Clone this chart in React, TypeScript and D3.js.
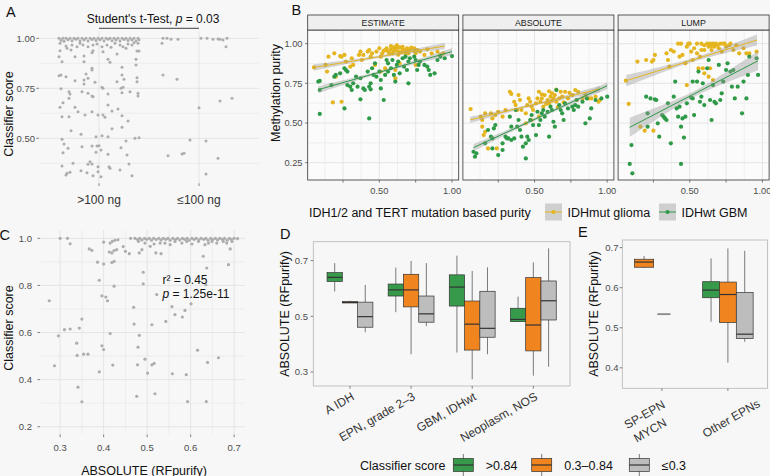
import React from 'react';
import * as d3 from 'd3';

const FONT = "'Liberation Sans', Arial, Helvetica, sans-serif";
const BG = '#f7f7f7';
const GRID = '#e2e2e2';
const TICK_TXT = '#4d4d4d';
const YEL = '#E5B51F';
const GRN = '#2E9A47';
const BOX_GRN = '#37994A';
const BOX_ORG = '#F0841F';
const BOX_GRY = '#BDBDBD';
const PT_GRY = '#adadad';

// ---- panel A: classifier score by DNA input ----
const aGroups = ['>100 ng', '≤100 ng'];
const aTicks = [0.5, 0.75, 1.0];
// [jitter, score] for the >100 ng group, dense band at 1.0
const aBand1 = [
  [-0.40, 1], [-0.38, 0.99], [-0.36, 1], [-0.35, 0.985], [-0.33, 1], [-0.31, 0.993], [-0.29, 1], [-0.27, 0.988],
  [-0.25, 1], [-0.23, 0.995], [-0.21, 1], [-0.19, 0.987], [-0.17, 1], [-0.15, 0.992], [-0.13, 1], [-0.11, 0.986],
  [-0.09, 1], [-0.07, 0.994], [-0.05, 1], [-0.03, 0.989], [-0.01, 1], [0.01, 0.993], [0.03, 1], [0.05, 0.986],
  [0.07, 1], [0.09, 0.995], [0.11, 1], [0.13, 0.988], [0.15, 1], [0.17, 0.992], [0.19, 1], [0.21, 0.987],
  [0.23, 1], [0.25, 0.994], [0.27, 1], [0.29, 0.989], [0.31, 1], [0.33, 0.991], [0.35, 1], [0.37, 0.986],
  [0.39, 1], [0.40, 0.993],
];
const aPts1 = [
  [-0.39, 0.975], [-0.33, 0.962], [-0.32, 0.95], [-0.28, 0.942], [-0.27, 0.967], [-0.22, 0.958], [-0.19, 0.975],
  [-0.16, 0.967], [-0.11, 0.958], [-0.06, 0.967], [-0.02, 0.972], [0.03, 0.958], [0.08, 0.967], [0.12, 0.955],
  [0.16, 0.975], [0.21, 0.967], [0.24, 0.958], [0.29, 0.972], [0.33, 0.967], [0.35, 0.978], [0.39, 0.975],
  [-0.39, 0.938], [-0.37, 0.883], [-0.40, 0.908], [-0.24, 0.908], [-0.15, 0.912], [-0.15, 0.883], [-0.07, 0.928],
  [-0.06, 0.938], [0.04, 0.933], [0.09, 0.895], [0.11, 0.88], [0.23, 0.855], [0.18, 0.922], [0.27, 0.95],
  [0.38, 0.937], [0.40, 0.937], [0.37, 0.895], [0.37, 0.867], [-0.07, 0.85], [-0.07, 0.842],
  [-0.40, 0.813], [-0.38, 0.817], [-0.33, 0.808], [-0.24, 0.788], [-0.15, 0.792], [-0.13, 0.822], [-0.11, 0.80],
  [-0.15, 0.772], [-0.04, 0.78], [0.18, 0.783], [0.23, 0.817], [0.25, 0.795], [0.38, 0.803], [0.38, 0.783],
  [-0.38, 0.748], [0.03, 0.755], [0.04, 0.75], [-0.30, 0.733], [-0.29, 0.722], [-0.30, 0.70], [-0.17, 0.733],
  [-0.11, 0.725], [-0.07, 0.712], [-0.06, 0.708], [0.09, 0.722], [0.22, 0.75], [0.24, 0.755], [0.23, 0.728],
  [0.31, 0.733], [0.39, 0.725], [0.39, 0.712],
  [-0.36, 0.678], [-0.39, 0.655], [-0.24, 0.655], [-0.21, 0.633], [-0.37, 0.608], [-0.30, 0.608], [-0.14, 0.617],
  [-0.07, 0.633], [-0.01, 0.617], [0.04, 0.617], [0.06, 0.605], [0.09, 0.667], [0.13, 0.637], [0.19, 0.647],
  [0.23, 0.613], [0.29, 0.587],
  [-0.28, 0.538], [-0.18, 0.52], [-0.03, 0.508], [0.03, 0.513], [0.09, 0.508], [0.13, 0.548], [0.23, 0.555],
  [0.36, 0.50], [0.40, 0.503], [-0.37, 0.495], [-0.35, 0.472], [-0.31, 0.45], [-0.17, 0.458], [-0.07, 0.462],
  [-0.02, 0.462], [0.00, 0.463], [-0.03, 0.43], [0.02, 0.442], [0.09, 0.42], [0.22, 0.453], [0.27, 0.487],
  [0.28, 0.417], [-0.36, 0.428],
  [-0.26, 0.375], [-0.37, 0.362], [-0.32, 0.325], [-0.33, 0.317], [-0.29, 0.33], [-0.18, 0.338], [-0.12, 0.328],
  [-0.11, 0.37], [-0.09, 0.383], [-0.07, 0.372], [-0.06, 0.313], [-0.01, 0.358], [-0.01, 0.333], [0.02, 0.308],
  [0.10, 0.358], [0.11, 0.35], [0.21, 0.342], [0.30, 0.372], [0.33, 0.313],
];
const aPts2 = [
  [-0.36, 1.0], [-0.32, 1.0], [-0.28, 0.995], [-0.21, 0.995], [-0.37, 0.975], [0.02, 1.0], [0.08, 1.0],
  [0.14, 0.995], [0.19, 0.997], [0.21, 0.995], [0.24, 0.992], [0.28, 1.0], [0.27, 0.958], [-0.36, 0.817],
  [-0.22, 0.795], [0.21, 0.687], [0.33, 0.70], [0.00, 0.653], [-0.09, 0.492], [0.07, 0.487], [-0.31, 0.413],
  [-0.17, 0.422], [-0.15, 0.425], [0.19, 0.40], [0.07, 0.322],
];

// ---- panel B: methylation purity vs mutation based purity ----
const estMut = [
  [0.05, 0.85], [0.13, 0.866], [0.14, 0.824], [0.15, 0.918], [0.19, 0.939], [0.20, 0.792], [0.18, 0.63],
  [0.24, 0.634], [0.23, 0.922], [0.24, 0.918], [0.26, 0.929], [0.27, 0.887], [0.30, 0.855], [0.31, 0.908],
  [0.32, 0.866], [0.36, 0.929], [0.37, 0.95], [0.38, 0.897], [0.39, 0.929], [0.42, 0.95], [0.43, 0.96],
  [0.44, 0.918], [0.45, 0.939], [0.47, 0.866], [0.48, 0.95], [0.50, 0.971], [0.51, 0.918], [0.52, 0.939],
  [0.54, 0.96], [0.55, 0.971], [0.56, 0.95], [0.58, 0.964], [0.59, 0.939], [0.60, 0.977], [0.61, 0.96],
  [0.62, 0.971], [0.63, 0.95], [0.64, 0.977], [0.66, 0.964], [0.67, 0.96], [0.68, 0.95], [0.69, 0.971],
  [0.70, 0.939], [0.71, 0.964], [0.74, 0.956], [0.75, 0.939], [0.76, 0.96], [0.78, 0.95], [0.81, 0.929],
  [0.83, 0.964], [0.86, 0.939], [0.90, 0.95], [0.92, 0.929], [0.94, 0.939], [0.61, 0.782], [0.61, 0.834],
  [0.51, 0.824], [0.54, 0.845], [0.64, 0.876], [0.75, 0.866], [0.57, 0.94], [0.63, 0.93], [0.66, 0.98],
  [0.70, 0.955], [0.72, 0.975], [0.65, 0.945], [0.60, 0.95], [0.53, 0.955], [0.68, 0.935], [0.74, 0.97],
  [0.58, 0.985], [0.62, 0.99],
];
const estWt = [
  [0.09, 0.557], [0.08, 0.761], [0.09, 0.765], [0.09, 0.708], [0.19, 0.792], [0.20, 0.803], [0.17, 0.739],
  [0.26, 0.592], [0.23, 0.813], [0.26, 0.845], [0.27, 0.834], [0.28, 0.824], [0.28, 0.739], [0.30, 0.729],
  [0.31, 0.708], [0.32, 0.75], [0.34, 0.792], [0.35, 0.729], [0.37, 0.782], [0.37, 0.649], [0.39, 0.718],
  [0.40, 0.708], [0.42, 0.824], [0.43, 0.729], [0.44, 0.75], [0.44, 0.712], [0.45, 0.845], [0.46, 0.803],
  [0.47, 0.876], [0.48, 0.792], [0.50, 0.824], [0.51, 0.771], [0.51, 0.718], [0.53, 0.645], [0.43, 0.529],
  [0.54, 0.803], [0.55, 0.897], [0.56, 0.824], [0.56, 0.876], [0.58, 0.845], [0.59, 0.897], [0.60, 0.803],
  [0.61, 0.761], [0.62, 0.866], [0.63, 0.887], [0.64, 0.813], [0.66, 0.908], [0.67, 0.855], [0.68, 0.918],
  [0.69, 0.834], [0.70, 0.75], [0.70, 0.887], [0.71, 0.908], [0.74, 0.918], [0.75, 0.897], [0.76, 0.834],
  [0.77, 0.866], [0.78, 0.887], [0.81, 0.866], [0.83, 0.855], [0.84, 0.834], [0.85, 0.803], [0.88, 0.813],
  [0.90, 0.897], [0.92, 0.918], [0.95, 0.908], [1.00, 0.922],
];
const absMut = [
  [0.06, 0.588], [0.13, 0.54], [0.14, 0.519], [0.16, 0.561], [0.20, 0.561], [0.21, 0.529], [0.23, 0.55],
  [0.25, 0.571], [0.14, 0.477], [0.15, 0.424], [0.16, 0.445], [0.18, 0.34], [0.24, 0.34], [0.28, 0.54],
  [0.30, 0.582], [0.33, 0.697], [0.34, 0.683], [0.36, 0.634], [0.37, 0.613], [0.38, 0.582], [0.39, 0.676],
  [0.40, 0.645], [0.41, 0.582], [0.44, 0.561], [0.45, 0.613], [0.46, 0.655], [0.47, 0.634], [0.48, 0.603],
  [0.49, 0.582], [0.51, 0.624], [0.52, 0.655], [0.53, 0.697], [0.54, 0.634], [0.55, 0.655], [0.56, 0.603],
  [0.57, 0.676], [0.59, 0.645], [0.60, 0.624], [0.61, 0.666], [0.62, 0.687], [0.63, 0.655], [0.64, 0.676],
  [0.65, 0.634], [0.67, 0.655], [0.68, 0.697], [0.69, 0.666], [0.71, 0.697], [0.73, 0.655], [0.76, 0.676],
  [0.78, 0.708], [0.79, 0.645], [0.80, 0.697], [0.83, 0.655], [0.85, 0.676], [0.87, 0.655], [0.89, 0.655],
  [0.92, 0.666], [0.94, 0.634], [0.95, 0.645], [0.44, 0.498], [0.48, 0.519], [0.53, 0.54], [0.58, 0.62],
  [0.62, 0.64], [0.66, 0.60], [0.70, 0.63], [0.74, 0.69], [0.60, 0.70], [0.55, 0.68], [0.65, 0.71],
];
const absWt = [
  [0.08, 0.319], [0.09, 0.288], [0.10, 0.309], [0.16, 0.372], [0.18, 0.456], [0.20, 0.414], [0.21, 0.403],
  [0.21, 0.34], [0.22, 0.466], [0.23, 0.487], [0.25, 0.298], [0.28, 0.372], [0.28, 0.33], [0.30, 0.414],
  [0.31, 0.403], [0.32, 0.403], [0.33, 0.54], [0.34, 0.393], [0.34, 0.477], [0.36, 0.403], [0.37, 0.582],
  [0.38, 0.477], [0.39, 0.519], [0.40, 0.456], [0.41, 0.414], [0.42, 0.351], [0.44, 0.277], [0.44, 0.372],
  [0.45, 0.414], [0.46, 0.393], [0.47, 0.519], [0.48, 0.55], [0.49, 0.487], [0.51, 0.424], [0.52, 0.571],
  [0.53, 0.487], [0.54, 0.519], [0.55, 0.561], [0.56, 0.582], [0.57, 0.54], [0.59, 0.571], [0.60, 0.414],
  [0.61, 0.603], [0.62, 0.582], [0.63, 0.508], [0.64, 0.477], [0.65, 0.708], [0.67, 0.613], [0.68, 0.582],
  [0.69, 0.561], [0.70, 0.519], [0.71, 0.624], [0.73, 0.592], [0.76, 0.603], [0.77, 0.582], [0.78, 0.613],
  [0.79, 0.645], [0.80, 0.603], [0.83, 0.634], [0.85, 0.498], [0.86, 0.655], [0.88, 0.529], [0.89, 0.592],
  [0.92, 0.645], [0.96, 0.655], [1.00, 0.666],
];
const lumpMut = [
  [0.06, 0.767], [0.08, 0.62], [0.14, 0.887], [0.16, 0.477], [0.20, 0.897], [0.24, 0.887], [0.25, 0.897],
  [0.26, 0.929], [0.19, 0.452], [0.25, 0.452], [0.34, 0.939], [0.35, 0.897], [0.36, 0.855], [0.37, 0.96],
  [0.39, 0.95], [0.42, 1.0], [0.43, 0.918], [0.44, 1.0], [0.45, 0.929], [0.47, 0.876], [0.48, 0.981],
  [0.48, 0.739], [0.49, 1.0], [0.50, 1.0], [0.51, 0.95], [0.52, 0.897], [0.53, 0.971], [0.55, 0.939],
  [0.56, 0.845], [0.57, 0.918], [0.58, 0.96], [0.59, 0.845], [0.60, 0.96], [0.62, 1.0], [0.63, 0.981],
  [0.64, 1.0], [0.65, 0.96], [0.66, 1.0], [0.67, 0.981], [0.68, 1.0], [0.70, 0.971], [0.71, 1.0],
  [0.72, 0.95], [0.73, 1.0], [0.75, 0.981], [0.78, 1.0], [0.80, 0.96], [0.82, 0.99], [0.84, 0.939],
  [0.87, 0.971], [0.89, 0.939], [0.91, 0.939], [0.96, 0.95], [0.60, 0.813], [0.63, 0.792], [0.66, 0.771],
  [0.64, 0.845], [0.60, 0.99], [0.65, 0.985], [0.69, 0.99], [0.74, 1.0], [0.77, 0.99], [0.58, 1.0], [0.55, 1.0],
];
const lumpWt = [
  [0.087, 0.242], [0.099, 0.361], [0.105, 0.183], [0.20, 0.666], [0.21, 0.561], [0.23, 0.655], [0.26, 0.649],
  [0.27, 0.645], [0.21, 0.477], [0.28, 0.498], [0.29, 0.414], [0.31, 0.55], [0.32, 0.54], [0.33, 0.529],
  [0.34, 0.519], [0.35, 0.624], [0.37, 0.372], [0.39, 0.666], [0.40, 0.761], [0.41, 0.592], [0.42, 0.54],
  [0.43, 0.603], [0.44, 0.477], [0.45, 0.529], [0.46, 0.408], [0.44, 0.242], [0.47, 0.54], [0.48, 0.624],
  [0.51, 0.66], [0.52, 0.655], [0.52, 0.761], [0.53, 0.55], [0.55, 0.761], [0.56, 0.824], [0.57, 0.634],
  [0.58, 0.666], [0.59, 0.75], [0.60, 0.613], [0.62, 0.845], [0.63, 0.897], [0.64, 0.645], [0.65, 0.519],
  [0.66, 0.739], [0.67, 0.634], [0.68, 0.624], [0.70, 0.866], [0.71, 0.645], [0.72, 0.687], [0.73, 0.761],
  [0.75, 0.834], [0.76, 0.876], [0.78, 0.824], [0.79, 0.729], [0.80, 0.834], [0.81, 0.655], [0.83, 0.729],
  [0.86, 0.561], [0.87, 0.761], [0.89, 0.655], [0.90, 0.803], [0.91, 0.918], [0.96, 0.908], [0.97, 0.803],
];
// linear fits: start/end of fitted line and CI half-width at ends / middle
const bFits = {
  ESTIMATE: { mut: [0.05, 0.85, 0.95, 0.985, 0.02, 0.008], wt: [0.08, 0.71, 1.0, 0.95, 0.022, 0.008] },
  ABSOLUTE: { mut: [0.057, 0.52, 0.95, 0.715, 0.02, 0.008], wt: [0.08, 0.345, 1.0, 0.735, 0.022, 0.009] },
  LUMP: { mut: [0.064, 0.767, 0.963, 1.023, 0.035, 0.012], wt: [0.087, 0.473, 0.97, 0.892, 0.06, 0.018] },
};
const facets = [
  { name: 'ESTIMATE', mut: estMut, wt: estWt },
  { name: 'ABSOLUTE', mut: absMut, wt: absWt },
  { name: 'LUMP', mut: lumpMut, wt: lumpWt },
];
const bYTicks = [0.25, 0.5, 0.75, 1.0];
const bXTicks = [0.25, 0.5, 0.75, 1.0];
const bXLabels = [0.5, 1.0];
const bLegend = ['IDHmut glioma', 'IDHwt GBM'];

// ---- panel C: classifier score vs ABSOLUTE ----
const cXTicks = [0.3, 0.4, 0.5, 0.6, 0.7];
const cYTicks = [0.2, 0.4, 0.6, 0.8, 1.0];
const cBand = [
  [0.472, 1], [0.478, 0.995], [0.483, 1], [0.488, 0.993], [0.494, 1], [0.499, 0.996], [0.505, 1], [0.51, 0.992],
  [0.515, 1], [0.521, 0.995], [0.527, 1], [0.532, 0.993], [0.537, 1], [0.543, 0.996], [0.548, 1], [0.553, 0.992],
  [0.559, 1], [0.565, 0.995], [0.57, 1], [0.575, 0.993], [0.581, 1], [0.586, 0.996], [0.592, 1], [0.597, 0.992],
  [0.603, 1], [0.608, 0.995], [0.613, 1], [0.619, 0.993], [0.624, 1], [0.63, 0.996], [0.635, 1], [0.64, 0.992],
  [0.646, 1], [0.651, 0.995], [0.657, 1], [0.662, 0.993], [0.667, 1], [0.673, 0.996], [0.678, 1], [0.684, 0.992],
  [0.689, 1], [0.694, 0.995], [0.70, 1],
];
const cPts = [
  [0.30, 1.0], [0.317, 1.0], [0.323, 0.977], [0.275, 0.735], [0.287, 0.459], [0.296, 0.586], [0.31, 0.612],
  [0.323, 0.615], [0.344, 0.619], [0.35, 0.657], [0.338, 0.555], [0.339, 0.503], [0.354, 0.508], [0.364, 0.508],
  [0.341, 0.368], [0.35, 0.306], [0.367, 0.955], [0.373, 0.949], [0.386, 0.899], [0.40, 0.891], [0.39, 0.822],
  [0.396, 0.756], [0.405, 0.751], [0.409, 0.735], [0.415, 0.596], [0.421, 0.462], [0.39, 0.433], [0.396, 0.544],
  [0.40, 0.528], [0.424, 0.797], [0.419, 0.897], [0.424, 0.902], [0.40, 0.984], [0.415, 0.98], [0.42, 0.987],
  [0.426, 0.992], [0.433, 0.994], [0.413, 0.942], [0.419, 0.938], [0.424, 0.948], [0.43, 0.952], [0.459, 0.935],
  [0.462, 1.0], [0.469, 0.707], [0.47, 0.636], [0.479, 0.538], [0.482, 0.588], [0.478, 0.463], [0.476, 0.329],
  [0.491, 0.856], [0.491, 0.807], [0.482, 0.938], [0.488, 0.952], [0.495, 0.487], [0.501, 0.428], [0.511, 0.463],
  [0.516, 0.469], [0.511, 0.633], [0.518, 0.34], [0.522, 0.761], [0.52, 0.938], [0.532, 0.935], [0.543, 0.647],
  [0.557, 0.71], [0.558, 0.425], [0.564, 0.676], [0.581, 0.666], [0.587, 0.694], [0.59, 0.421], [0.593, 0.307],
  [0.601, 0.722], [0.616, 0.525], [0.635, 0.803], [0.637, 0.874], [0.629, 0.924], [0.636, 0.307], [0.639, 0.473],
  [0.664, 0.493], [0.687, 0.888], [0.691, 0.955], [0.708, 0.999], [0.695, 0.987],
  [0.48, 0.987], [0.495, 0.98], [0.507, 0.966], [0.516, 0.976], [0.53, 0.98], [0.541, 0.98], [0.553, 0.973],
  [0.564, 0.987], [0.58, 0.98], [0.591, 0.987], [0.603, 0.976], [0.618, 0.987], [0.633, 0.973], [0.641, 0.98],
  [0.649, 0.987], [0.66, 0.98], [0.675, 0.987], [0.683, 0.98], [0.445, 0.965], [0.45, 0.945],
];

// ---- panels D / E: boxplots ----
const scoreGroups = ['>0.84', '0.3–0.84', '≤0.3'];
const scoreFill = [BOX_GRN, BOX_ORG, BOX_GRY];
const dCats = ['A IDH', 'EPN, grade 2–3', 'GBM, IDHwt', 'Neoplasm, NOS'];
const dBoxes = [
  { cat: 'A IDH', grp: '>0.84', lo: 0.589, q1: 0.625, med: 0.640, q3: 0.657, hi: 0.691 },
  { cat: 'A IDH', grp: '0.3–0.84', lo: 0.548, q1: 0.548, med: 0.550, q3: 0.553, hi: 0.556 },
  { cat: 'A IDH', grp: '≤0.3', lo: 0.443, q1: 0.461, med: 0.499, q3: 0.551, hi: 0.613 },
  { cat: 'EPN, grade 2–3', grp: '>0.84', lo: 0.515, q1: 0.573, med: 0.595, q3: 0.616, hi: 0.675 },
  { cat: 'EPN, grade 2–3', grp: '0.3–0.84', lo: 0.364, q1: 0.534, med: 0.595, q3: 0.651, hi: 0.699 },
  { cat: 'EPN, grade 2–3', grp: '≤0.3', lo: 0.465, q1: 0.479, med: 0.509, q3: 0.573, hi: 0.691 },
  { cat: 'GBM, IDHwt', grp: '>0.84', lo: 0.370, q1: 0.537, med: 0.605, q3: 0.649, hi: 0.718 },
  { cat: 'GBM, IDHwt', grp: '0.3–0.84', lo: 0.274, q1: 0.379, med: 0.472, q3: 0.555, hi: 0.663 },
  { cat: 'GBM, IDHwt', grp: '≤0.3', lo: 0.364, q1: 0.425, med: 0.457, q3: 0.590, hi: 0.676 },
  { cat: 'Neoplasm, NOS', grp: '>0.84', lo: 0.481, q1: 0.481, med: 0.489, q3: 0.529, hi: 0.571 },
  { cat: 'Neoplasm, NOS', grp: '0.3–0.84', lo: 0.287, q1: 0.376, med: 0.469, q3: 0.639, hi: 0.694 },
  { cat: 'Neoplasm, NOS', grp: '≤0.3', lo: 0.319, q1: 0.487, med: 0.556, q3: 0.627, hi: 0.744 },
];
const dYTicks = [0.3, 0.5, 0.7];
const eCats = ['SP-EPN\nMYCN', 'Other EPNs'];
const eBoxes = [
  { cat: 'SP-EPN\nMYCN', grp: '0.3–0.84', lo: 0.649, q1: 0.651, med: 0.664, q3: 0.671, hi: 0.679 },
  { cat: 'SP-EPN\nMYCN', grp: '≤0.3', lo: 0.534, q1: 0.534, med: 0.534, q3: 0.534, hi: 0.534 },
  { cat: 'Other EPNs', grp: '>0.84', lo: 0.515, q1: 0.575, med: 0.594, q3: 0.615, hi: 0.673 },
  { cat: 'Other EPNs', grp: '0.3–0.84', lo: 0.413, q1: 0.513, med: 0.583, q3: 0.614, hi: 0.698 },
  { cat: 'Other EPNs', grp: '≤0.3', lo: 0.465, q1: 0.473, med: 0.484, q3: 0.588, hi: 0.692 },
];
const eYTicks = [0.4, 0.5, 0.6, 0.7];

const Letter = ({ x, y, t }) => (
  <text x={x} y={y} fontSize={14.5} fill="#111">{t}</text>
);

function PanelA() {
  const x = d3.scaleLinear().domain([0.4, 2.6]).range([39, 259]);
  const y = d3.scaleLinear().domain([0.275, 1.035]).range([183.3, 31.3]);
  const minor = [0.375, 0.625, 0.875];
  const [top, bot] = y.range().slice().reverse();
  return (
    <g>
      {minor.map(v => <line key={'m' + v} x1={39} x2={259} y1={y(v)} y2={y(v)} stroke={GRID} strokeWidth={0.5} />)}
      {aTicks.map(v => <line key={'M' + v} x1={39} x2={259} y1={y(v)} y2={y(v)} stroke={GRID} strokeWidth={0.9} />)}
      {aGroups.map((g, i) => <line key={g} x1={x(i + 1)} x2={x(i + 1)} y1={top} y2={bot} stroke={GRID} strokeWidth={0.9} />)}
      {aBand1.concat(aPts1).map((d, i) => <circle key={'p' + i} cx={x(1 + d[0])} cy={y(d[1])} r={1.5} fill={PT_GRY} />)}
      {aPts2.map((d, i) => <circle key={'q' + i} cx={x(2 + d[0])} cy={y(d[1])} r={1.5} fill={PT_GRY} />)}
      {aTicks.map(v => (
        <g key={'t' + v}>
          <line x1={36.3} x2={39} y1={y(v)} y2={y(v)} stroke="#333" strokeWidth={0.6} />
          <text x={35} y={y(v) + 3.3} textAnchor="end" fontSize={9.5} fill={TICK_TXT}>{v.toFixed(2)}</text>
        </g>
      ))}
      {aGroups.map((g, i) => (
        <g key={'x' + g}>
          <line x1={x(i + 1)} x2={x(i + 1)} y1={bot} y2={bot + 2.7} stroke="#333" strokeWidth={0.6} />
          <text x={x(i + 1)} y={203.5} textAnchor="middle" fontSize={12} fill="#333">{g}</text>
        </g>
      ))}
      <text x={153} y={22.5} textAnchor="middle" fontSize={12} fill="#111">
        Student's t-Test, <tspan fontStyle="italic">p</tspan> = 0.03
      </text>
      <line x1={x(1)} x2={x(2)} y1={28.3} y2={28.3} stroke="#111" strokeWidth={0.8} />
      <text transform="translate(13,114) rotate(-90)" textAnchor="middle" fontSize={12.5} fill="#111">Classifier score</text>
      <Letter x={6} y={17} t="A" />
    </g>
  );
}

function ribbon(f, sx, sy) {
  const [x0, y0, x1, y1, seEnd, seMid] = f;
  const xm = (x0 + x1) / 2;
  const xs = d3.range(41).map(i => x0 + ((x1 - x0) * i) / 40);
  const yAt = xx => y0 + ((y1 - y0) * (xx - x0)) / (x1 - x0);
  const hw = xx => {
    const t = (xx - xm) / (x1 - xm);
    return Math.sqrt(seMid * seMid + (seEnd * seEnd - seMid * seMid) * t * t);
  };
  return d3.area().x(d => sx(d)).y0(d => sy(yAt(d) - hw(d))).y1(d => sy(yAt(d) + hw(d)))(xs);
}

function PanelB() {
  const w = 151;
  const top = 30;
  const bot = 180;
  const y = d3.scaleLinear().domain([0.141, 1.086]).range([bot, top]);
  const yMinor = [0.375, 0.625, 0.875];
  const xMinor = [0.125, 0.375, 0.625, 0.875];
  return (
    <g>
      {facets.map((f, i) => {
        const left = 307.7 + i * 155.2;
        const x = d3.scaleLinear().domain([0.007, 1.046]).range([left, left + w]);
        const fit = bFits[f.name];
        return (
          <g key={f.name}>
            <rect x={left} y={top} width={w} height={bot - top} fill="#fbfbfb" />
            {yMinor.map(v => <line key={'ym' + v} x1={left} x2={left + w} y1={y(v)} y2={y(v)} stroke={GRID} strokeWidth={0.5} />)}
            {bYTicks.map(v => <line key={'yM' + v} x1={left} x2={left + w} y1={y(v)} y2={y(v)} stroke={GRID} strokeWidth={0.9} />)}
            {xMinor.map(v => <line key={'xm' + v} x1={x(v)} x2={x(v)} y1={top} y2={bot} stroke={GRID} strokeWidth={0.5} />)}
            {bXTicks.map(v => <line key={'xM' + v} x1={x(v)} x2={x(v)} y1={top} y2={bot} stroke={GRID} strokeWidth={0.9} />)}
            {f.mut.map((d, j) => <circle key={'m' + j} cx={x(d[0])} cy={y(d[1])} r={2.1} fill={YEL} />)}
            {f.wt.map((d, j) => <circle key={'w' + j} cx={x(d[0])} cy={y(d[1])} r={2.1} fill={GRN} />)}
            <path d={ribbon(fit.mut, x, y)} fill="#999" fillOpacity={0.4} />
            <path d={ribbon(fit.wt, x, y)} fill="#999" fillOpacity={0.4} />
            <line x1={x(fit.mut[0])} y1={y(fit.mut[1])} x2={x(fit.mut[2])} y2={y(fit.mut[3])} stroke={YEL} strokeWidth={1} />
            <line x1={x(fit.wt[0])} y1={y(fit.wt[1])} x2={x(fit.wt[2])} y2={y(fit.wt[3])} stroke={GRN} strokeWidth={1} />
            <rect x={left} y={top} width={w} height={bot - top} fill="none" stroke="#333" strokeWidth={0.8} />
            <rect x={left} y={15} width={w} height={top - 15} fill="#efefef" stroke="#333" strokeWidth={0.8} />
            <text x={left + w / 2} y={26} textAnchor="middle" fontSize={8.8} fill="#1a1a1a">{f.name}</text>
            {bXTicks.map(v => <line key={'xt' + v} x1={x(v)} x2={x(v)} y1={bot} y2={bot + 2.7} stroke="#333" strokeWidth={0.6} />)}
            {bXLabels.map(v => (
              <text key={'xl' + v} x={x(v)} y={193.5} textAnchor="middle" fontSize={9.3} fill={TICK_TXT}>{v.toFixed(2)}</text>
            ))}
          </g>
        );
      })}
      {bYTicks.map(v => (
        <g key={'yt' + v}>
          <line x1={305} x2={307.7} y1={y(v)} y2={y(v)} stroke="#333" strokeWidth={0.6} />
          <text x={302.5} y={y(v) + 3.3} textAnchor="end" fontSize={9.3} fill={TICK_TXT}>{v.toFixed(2)}</text>
        </g>
      ))}
      <text transform="translate(279.5,93) rotate(-90)" textAnchor="middle" fontSize={12.5} fill="#111">Methylation purity</text>
      <text x={309} y={217} fontSize={12.5} fill="#111">IDH1/2 and TERT mutation based purity</text>
      {bLegend.map((t, i) => {
        const kx = i === 0 ? 545 : 659;
        const col = i === 0 ? YEL : GRN;
        return (
          <g key={t}>
            <rect x={kx} y={203.5} width={17} height={17} fill="#cfcfcf" />
            <line x1={kx} x2={kx + 17} y1={212} y2={212} stroke={col} strokeWidth={1} />
            <circle cx={kx + 8.5} cy={212} r={2.1} fill={col} />
            <text x={kx + 22.5} y={216.5} fontSize={12.5} fill="#111">{t}</text>
          </g>
        );
      })}
      <Letter x={291.5} y={15} t="B" />
    </g>
  );
}

function PanelC() {
  const x = d3.scaleLinear().domain([0.256, 0.725]).range([41, 245]);
  const y = d3.scaleLinear().domain([0.17, 1.035]).range([433.8, 230.1]);
  const xMinor = [0.35, 0.45, 0.55, 0.65];
  const yMinor = [0.3, 0.5, 0.7, 0.9];
  return (
    <g>
      {yMinor.map(v => <line key={'ym' + v} x1={41} x2={245} y1={y(v)} y2={y(v)} stroke={GRID} strokeWidth={0.5} />)}
      {cYTicks.map(v => <line key={'yM' + v} x1={41} x2={245} y1={y(v)} y2={y(v)} stroke={GRID} strokeWidth={0.9} />)}
      {xMinor.map(v => <line key={'xm' + v} x1={x(v)} x2={x(v)} y1={230.1} y2={433.8} stroke={GRID} strokeWidth={0.5} />)}
      {cXTicks.map(v => <line key={'xM' + v} x1={x(v)} x2={x(v)} y1={230.1} y2={433.8} stroke={GRID} strokeWidth={0.9} />)}
      {cBand.concat(cPts).map((d, i) => <circle key={i} cx={x(d[0])} cy={y(d[1])} r={1.6} fill={PT_GRY} />)}
      {cYTicks.map(v => (
        <g key={'yt' + v}>
          <line x1={37.5} x2={40.2} y1={y(v)} y2={y(v)} stroke="#333" strokeWidth={0.6} />
          <text x={32} y={y(v) + 3.3} textAnchor="end" fontSize={9.5} fill={TICK_TXT}>{v.toFixed(1)}</text>
        </g>
      ))}
      {cXTicks.map(v => (
        <g key={'xt' + v}>
          <line x1={x(v)} x2={x(v)} y1={434.5} y2={437.2} stroke="#333" strokeWidth={0.6} />
          <text x={x(v)} y={451} textAnchor="middle" fontSize={9.5} fill={TICK_TXT}>{v.toFixed(1)}</text>
        </g>
      ))}
      <text x={162.5} y={284} fontSize={12} fill="#111">r² = 0.45</text>
      <text x={162.5} y={298} fontSize={12} fill="#111"><tspan fontStyle="italic">p</tspan> = 1.25e-11</text>
      <text x={144} y={474.5} textAnchor="middle" fontSize={12.5} fill="#111">ABSOLUTE (RFpurify)</text>
      <text transform="translate(13,328) rotate(-90)" textAnchor="middle" fontSize={12.5} fill="#111">Classifier score</text>
      <Letter x={-0.5} y={240} t="C" />
    </g>
  );
}

function BoxMark({ cx, bw, b, y, fill }) {
  const flat = b.q3 - b.q1 < 0.001;
  if (flat) {
    return <line x1={cx - bw / 2} x2={cx + bw / 2} y1={y(b.med)} y2={y(b.med)} stroke="#8a8a8a" strokeWidth={1.8} />;
  }
  return (
    <g>
      <line x1={cx} x2={cx} y1={y(b.hi)} y2={y(b.q3)} stroke="#444" strokeWidth={0.7} />
      <line x1={cx} x2={cx} y1={y(b.q1)} y2={y(b.lo)} stroke="#444" strokeWidth={0.7} />
      <rect x={cx - bw / 2} y={y(b.q3)} width={bw} height={y(b.q1) - y(b.q3)} fill={fill} stroke="#333" strokeWidth={0.7} />
      <line x1={cx - bw / 2} x2={cx + bw / 2} y1={y(b.med)} y2={y(b.med)} stroke="#333" strokeWidth={1.2} />
    </g>
  );
}

function PanelD() {
  const left = 313.3, right = 570, top = 241.7, bot = 386;
  const x = d3.scaleLinear().domain([0.4, 4.6]).range([left, right]);
  const y = d3.scaleLinear().domain([0.25, 0.768]).range([bot, top]);
  const unit = x(1) - x(0);
  return (
    <g>
      {dBoxes.map((b, i) => {
        const gi = scoreGroups.indexOf(b.grp);
        const cx = x(dCats.indexOf(b.cat) + 1) + (gi - 1) * 0.25 * unit;
        return <BoxMark key={i} cx={cx} bw={0.25 * unit} b={b} y={y} fill={scoreFill[gi]} />;
      })}
      <rect x={left} y={top} width={right - left} height={bot - top} fill="none" stroke="#b5b5b5" strokeWidth={0.8} />
      {dYTicks.map(v => (
        <g key={v}>
          <line x1={310.6} x2={left} y1={y(v)} y2={y(v)} stroke="#333" strokeWidth={0.6} />
          <text x={308} y={y(v) + 3.3} textAnchor="end" fontSize={9.5} fill={TICK_TXT}>{v.toFixed(1)}</text>
        </g>
      ))}
      {dCats.map((c, i) => (
        <g key={c}>
          <line x1={x(i + 1)} x2={x(i + 1)} y1={bot} y2={bot + 2.7} stroke="#333" strokeWidth={0.6} />
          <text transform={`translate(${x(i + 1) + 5},399) rotate(-30)`} textAnchor="end" fontSize={12} fill="#333">{c}</text>
        </g>
      ))}
      <text transform="translate(289,314) rotate(-90)" textAnchor="middle" fontSize={12.5} fill="#111">ABSOLUTE (RFpurify)</text>
      <Letter x={280} y={238.5} t="D" />
    </g>
  );
}

// dodge for the SP-EPN category (only two groups, drawn narrower)
const eSpDodge = { '0.3–0.84': [-0.27, 0.29], '≤0.3': [0.03, 0.2] };

function PanelE() {
  const left = 622.3, right = 767.5, top = 240, bot = 388.3;
  const x = d3.scaleLinear().domain([0.4, 2.6]).range([left, right]);
  const y = d3.scaleLinear().domain([0.349, 0.719]).range([bot, top]);
  const unit = x(1) - x(0);
  return (
    <g>
      {eBoxes.map((b, i) => {
        const ci = eCats.indexOf(b.cat);
        const gi = scoreGroups.indexOf(b.grp);
        const [off, bw] = ci === 0 ? eSpDodge[b.grp] : [(gi - 1) * 0.255, 0.255];
        return <BoxMark key={i} cx={x(ci + 1) + off * unit} bw={bw * unit} b={b} y={y} fill={scoreFill[gi]} />;
      })}
      <rect x={left} y={top} width={right - left} height={bot - top} fill="none" stroke="#b5b5b5" strokeWidth={0.8} />
      {eYTicks.map(v => (
        <g key={v}>
          <line x1={619.6} x2={left} y1={y(v)} y2={y(v)} stroke="#333" strokeWidth={0.6} />
          <text x={618.5} y={y(v) + 3.3} textAnchor="end" fontSize={9.5} fill={TICK_TXT}>{v.toFixed(1)}</text>
        </g>
      ))}
      {eCats.map((c, i) => (
        <line key={c} x1={x(i + 1)} x2={x(i + 1)} y1={bot} y2={bot + 2.7} stroke="#333" strokeWidth={0.6} />
      ))}
      <text transform={`translate(${x(1) + 4},407) rotate(-30)`} textAnchor="end" fontSize={12} fill="#333">{eCats[0].split('\n')[0]}</text>
      <text transform={`translate(${x(1) + 5.5},425) rotate(-30)`} textAnchor="end" fontSize={12} fill="#333">{eCats[0].split('\n')[1]}</text>
      <text transform={`translate(${x(2) + 33},406) rotate(-30)`} textAnchor="end" fontSize={12} fill="#333">{eCats[1]}</text>
      <text transform="translate(597.5,314) rotate(-90)" textAnchor="middle" fontSize={12.5} fill="#111">ABSOLUTE (RFpurify)</text>
      <Letter x={578} y={237} t="E" />
    </g>
  );
}

function BottomLegend() {
  const keyX = [453.3, 531.7, 629.3];
  return (
    <g>
      <text x={360} y={469.5} fontSize={12.5} fill="#111">Classifier score</text>
      {scoreGroups.map((g, i) => (
        <g key={g}>
          <line x1={keyX[i] + 10} x2={keyX[i] + 10} y1={454} y2={476} stroke="#444" strokeWidth={0.7} />
          <rect x={keyX[i]} y={458.5} width={20} height={13} fill={scoreFill[i]} stroke="#333" strokeWidth={0.7} />
          <line x1={keyX[i]} x2={keyX[i] + 20} y1={465} y2={465} stroke="#333" strokeWidth={1.2} />
          <text x={keyX[i] + 32.5} y={469.5} fontSize={12.5} fill="#111">{g}</text>
        </g>
      ))}
    </g>
  );
}

export default function App() {
  return (
    <svg width={770} height={476} fontFamily={FONT} style={{ position: 'absolute', left: 0, top: 0 }}>
      <rect width={770} height={476} fill={BG} />
      <PanelA />
      <PanelB />
      <PanelC />
      <PanelD />
      <PanelE />
      <BottomLegend />
    </svg>
  );
}
